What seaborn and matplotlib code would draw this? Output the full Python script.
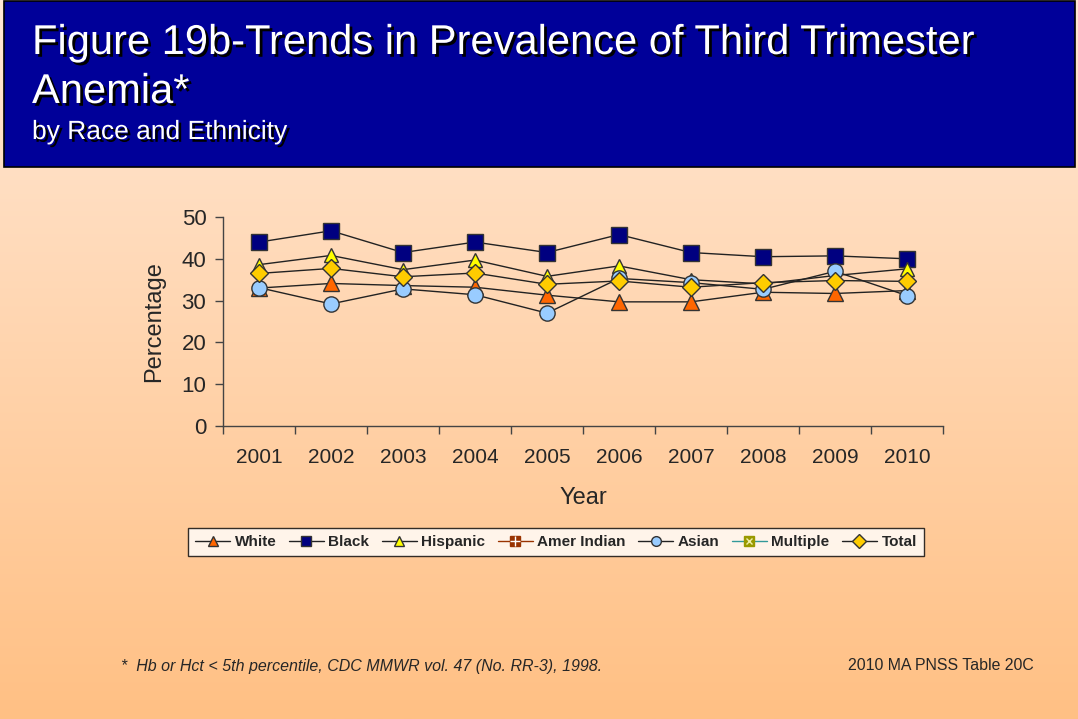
import numpy as np
import pandas as pd
import matplotlib
matplotlib.use("Agg")
import matplotlib.pyplot as plt
import matplotlib.patheffects as pe
from matplotlib.lines import Line2D
from matplotlib.legend_handler import HandlerTuple
from matplotlib.patches import Rectangle
import seaborn as sns

years = [2001, 2002, 2003, 2004, 2005, 2006, 2007, 2008, 2009, 2010]
white = [33.0, 34.1, 33.6, 33.2, 31.3, 29.7, 29.7, 32.0, 31.7, 32.4]
black = [44.0, 46.7, 41.5, 44.0, 41.5, 45.8, 41.5, 40.5, 40.7, 40.0]
hispanic = [38.6, 40.8, 37.4, 39.7, 35.8, 38.3, 35.0, 34.0, 36.0, 37.6]
amer_indian = [None] * 10
asian = [33.1, 29.2, 32.8, 31.4, 27.0, 35.3, 34.3, 32.7, 37.0, 31.2]
multiple = [None] * 10
total = [36.5, 37.7, 35.7, 36.6, 33.9, 34.7, 33.2, 34.3, 34.8, 34.6]

series = ["White", "Black", "Hispanic", "Amer Indian", "Asian", "Multiple", "Total"]
values = [white, black, hispanic, amer_indian, asian, multiple, total]
markers = ["^", "s", "^", "s", "o", "s", "D"]
faces = ["#FF6600", "#000080", "#FFFF00", "#993300", "#99CCFF", "#999900", "#FFCC00"]
sizes = [11, 11, 10, 10, 11, 10, 9]
line_cols = ["#222222", "#222222", "#222222", "#993300", "#222222", "#339999", "#222222"]

sns.set_style("white")
plt.rcParams["font.family"] = ["Liberation Sans", "DejaVu Sans"]

fig = plt.figure(figsize=(10.78, 7.19), dpi=100)

# background gradient
bg = fig.add_axes([0, 0, 1, 1], zorder=-10)
grad = np.linspace(0, 1, 256).reshape(-1, 1)
c_top = np.array([255, 232, 214]) / 255
c_bot = np.array([255, 192, 132]) / 255
img = c_top[None, None, :] * (1 - grad[:, :, None]) + c_bot[None, None, :] * grad[:, :, None]
bg.imshow(img, aspect="auto", extent=[0, 1, 0, 1])
bg.set_xlim(0, 1)
bg.set_ylim(0, 1)
bg.axis("off")

# title band
fig.patches.append(Rectangle((4 / 1078, 1 - 167 / 719), 1071 / 1078, 166 / 719,
                             transform=fig.transFigure, facecolor="#000099",
                             edgecolor="black", linewidth=1.2, zorder=-5))
shadow = [pe.withSimplePatchShadow(offset=(2, -2), shadow_rgbFace="black", alpha=1)]
fig.text(32 / 1078, 1 - 54 / 719, "Figure 19b-Trends in Prevalence of Third Trimester",
         color="white", fontsize=30, va="baseline", path_effects=shadow)
fig.text(32 / 1078, 1 - 103 / 719, "Anemia*", color="white", fontsize=30,
         va="baseline", path_effects=shadow)
fig.text(32 / 1078, 1 - 139 / 719, "by Race and Ethnicity", color="white",
         fontsize=19, va="baseline", path_effects=shadow)

ax = fig.add_axes([223 / 1078, 1 - 426 / 719, 720 / 1078, 209 / 719])
ax.patch.set_alpha(0)

df = pd.DataFrame({"Year": years})
for name, vals, m, fc, ms in zip(series, values, markers, faces, sizes):
    df[name] = pd.to_numeric(pd.Series(vals, dtype="float"))
    if df[name].notna().any():
        sns.lineplot(data=df, x="Year", y=name, ax=ax, color="#222222", linewidth=1,
                     marker=m, markersize=ms, markerfacecolor=fc,
                     markeredgecolor="#333333", markeredgewidth=1, clip_on=False)

ax.set_xlim(2000.5, 2010.5)
ax.set_ylim(0, 50)
ax.set_yticks([0, 10, 20, 30, 40, 50])
ax.set_xticks(np.arange(2000.5, 2011, 1))
ax.set_xticklabels([])
ax.set_xticks(years, minor=True)
ax.set_xticklabels([str(y) for y in years], minor=True)
ax.tick_params(axis="x", which="major", direction="out", length=6, width=1,
               color="#444444", bottom=True)
ax.tick_params(axis="x", which="minor", length=0, pad=16, labelsize=15)
ax.tick_params(axis="y", direction="out", length=6, width=1, color="#444444",
               left=True, labelsize=16, pad=6)
for s in ["top", "right"]:
    ax.spines[s].set_visible(False)
for s in ["left", "bottom"]:
    ax.spines[s].set_color("#444444")
    ax.spines[s].set_linewidth(1)
ax.set_xlabel("Year", fontsize=17, labelpad=14)
ax.set_ylabel("Percentage", fontsize=17, labelpad=12)

# legend
handles = []
for name, m, fc, lc in zip(series, markers, faces, line_cols):
    base = Line2D([], [], color=lc, linewidth=1, marker=m, markersize=7,
                  markerfacecolor=fc, markeredgecolor="#333333" if name not in ("Amer Indian", "Multiple") else fc)
    if name == "Amer Indian":
        handles.append((base, Line2D([], [], linestyle="none", marker="+", markersize=7,
                                     markeredgecolor="white", markeredgewidth=1)))
    elif name == "Multiple":
        handles.append((base, Line2D([], [], linestyle="none", marker="x", markersize=5,
                                     markeredgecolor="#EEEEAA", markeredgewidth=1)))
    else:
        handles.append(base)
leg = fig.legend(handles, series, loc="center", bbox_to_anchor=(556 / 1078, 1 - 542 / 719),
                 ncol=7, frameon=True, fancybox=False, edgecolor="black",
                 prop={"weight": "bold", "size": 11}, handlelength=2.3,
                 handletextpad=0.3, columnspacing=0.8, borderpad=0.45,
                 handler_map={tuple: HandlerTuple(ndivide=1)})
leg.get_frame().set_facecolor("white")
leg.get_frame().set_linewidth(1)

fig.text(121 / 1078, 1 - 666 / 719,
         "*  Hb or Hct < 5th percentile, CDC MMWR vol. 47 (No. RR-3), 1998.",
         fontsize=11.5, style="italic", va="center")
fig.text(1034 / 1078, 1 - 666 / 719, "2010 MA PNSS Table 20C", fontsize=11.4,
         ha="right", va="center")

fig.savefig("out.png", dpi=100)
